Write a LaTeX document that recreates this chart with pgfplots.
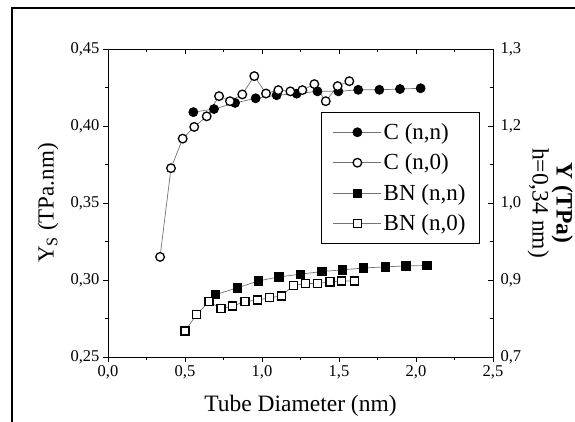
\documentclass[border=0pt]{standalone}
\usepackage{pgfplots}
\pgfplotsset{compat=1.18}
\usepackage{fontspec}
\setmainfont{Liberation Serif}

\begin{document}
\begin{tikzpicture}[x=1pt,y=1pt]
\useasboundingbox (0,0) rectangle (575,421);
% frame of the scanned figure
\draw[line width=2pt] (12,-2) -- (12,413) -- (577,413);

\pgfplotsset{
  ysbase/.style={
    scale only axis, width=385pt, height=308pt,
    at={(108pt,64pt)}, anchor=south west,
    xmin=0, xmax=2.5, ymin=0.25, ymax=0.45,
    xtick={0,0.5,...,2.5}, ytick={0.25,0.30,...,0.45},
    minor tick num=1,
    major tick length=5pt, minor tick length=3pt,
    every tick/.style={black, line width=0.7pt},
    axis line style={line width=0.9pt},
    tick label style={font=\fontsize{16.5}{19}\selectfont},
    /pgf/number format/assume math mode=true,
    /pgf/number format/use comma,
  },
}

\begin{axis}[
  ysbase,
  tick align=outside,
  xtick pos=bottom, ytick pos=left,
  xticklabel style={/pgf/number format/.cd, fixed, fixed zerofill, precision=1},
  yticklabel style={/pgf/number format/.cd, fixed, fixed zerofill, precision=2},
  legend style={at={(0.966,0.795)}, anchor=north east, draw=black, line width=0.8pt,
    fill=white, inner xsep=12pt, inner ysep=9pt, row sep=9pt,
    nodes={font=\fontsize{23}{26}\selectfont, inner sep=2pt}},
  legend cell align=left,
  legend image code/.code={%
    \draw[mark repeat=2, mark phase=2] plot coordinates {(0pt,0pt) (24pt,0pt) (48pt,0pt)};},
]
% C (n,n)
\addplot[black!55, line width=0.7pt, mark=*, mark size=4.5pt,
  mark options={draw=black, fill=black, line width=0.8pt}] coordinates {
  (0.554,0.409) (0.688,0.411) (0.825,0.415) (0.959,0.418) (1.095,0.420)
  (1.225,0.421) (1.360,0.4225) (1.496,0.4225) (1.625,0.4235) (1.762,0.4235)
  (1.896,0.424) (2.030,0.4245)
};
% C (n,0)
\addplot[black!55, line width=0.7pt, mark=*, mark size=4.3pt,
  mark options={draw=black, fill=white, line width=1.3pt}] coordinates {
  (0.338,0.315) (0.409,0.3726) (0.485,0.3918) (0.560,0.3994) (0.641,0.4063)
  (0.721,0.4194) (0.792,0.4161) (0.872,0.4205) (0.950,0.4324) (1.026,0.4211)
  (1.106,0.4233) (1.184,0.4225) (1.262,0.4233) (1.340,0.4272) (1.414,0.4161)
  (1.491,0.4259) (1.567,0.4291)
};
% BN (n,n)
\addplot[black!55, line width=0.7pt, mark=square*, mark size=4.2pt,
  mark options={draw=black, fill=black, line width=0.8pt}] coordinates {
  (0.699,0.2905) (0.842,0.2950) (0.976,0.2994) (1.110,0.3020) (1.251,0.3038)
  (1.388,0.3055) (1.524,0.3066) (1.658,0.3078) (1.800,0.3085) (1.935,0.3092)
  (2.070,0.3094)
};
% BN (n,0)
\addplot[black!55, line width=0.7pt, mark=square*, mark size=4.0pt,
  mark options={draw=black, fill=white, line width=1.3pt}] coordinates {
  (0.500,0.2668) (0.576,0.2777) (0.656,0.2860) (0.734,0.2814) (0.810,0.2831)
  (0.890,0.2860) (0.972,0.2870) (1.047,0.2885) (1.128,0.2896) (1.203,0.2966)
  (1.284,0.2977) (1.362,0.2977) (1.442,0.2988) (1.518,0.2994) (1.600,0.2994)
};
\legend{{C (n,n)}, {C (n,0)}, {BN (n,n)}, {BN (n,0)}}
\end{axis}

% right-hand and top ticks, pointing inward
\begin{axis}[
  ysbase,
  tick align=inside,
  xtick pos=top, ytick pos=right,
  xticklabels={},
  yticklabels={{0,7},{0,9},{1,0},{1,2},{1,3}},
  yticklabel style={anchor=west, xshift=4pt},
]
\addplot[draw=none] coordinates {(0,0.25)};
\end{axis}

\node[anchor=base, font=\fontsize{23.5}{28}\selectfont] at (300.5,9.5) {Tube Diameter (nm)};
\node[rotate=90, font=\fontsize{23}{28}\selectfont] at (48,218) {Y\textsubscript{S} (TPa.nm)};
\node[rotate=-90, anchor=north, font=\fontsize{23.5}{24}\selectfont, align=center,
  inner sep=1pt] at (574,218) {\textbf{Y (TPa)}\\h=0,34 nm)};
\end{tikzpicture}
\end{document}
